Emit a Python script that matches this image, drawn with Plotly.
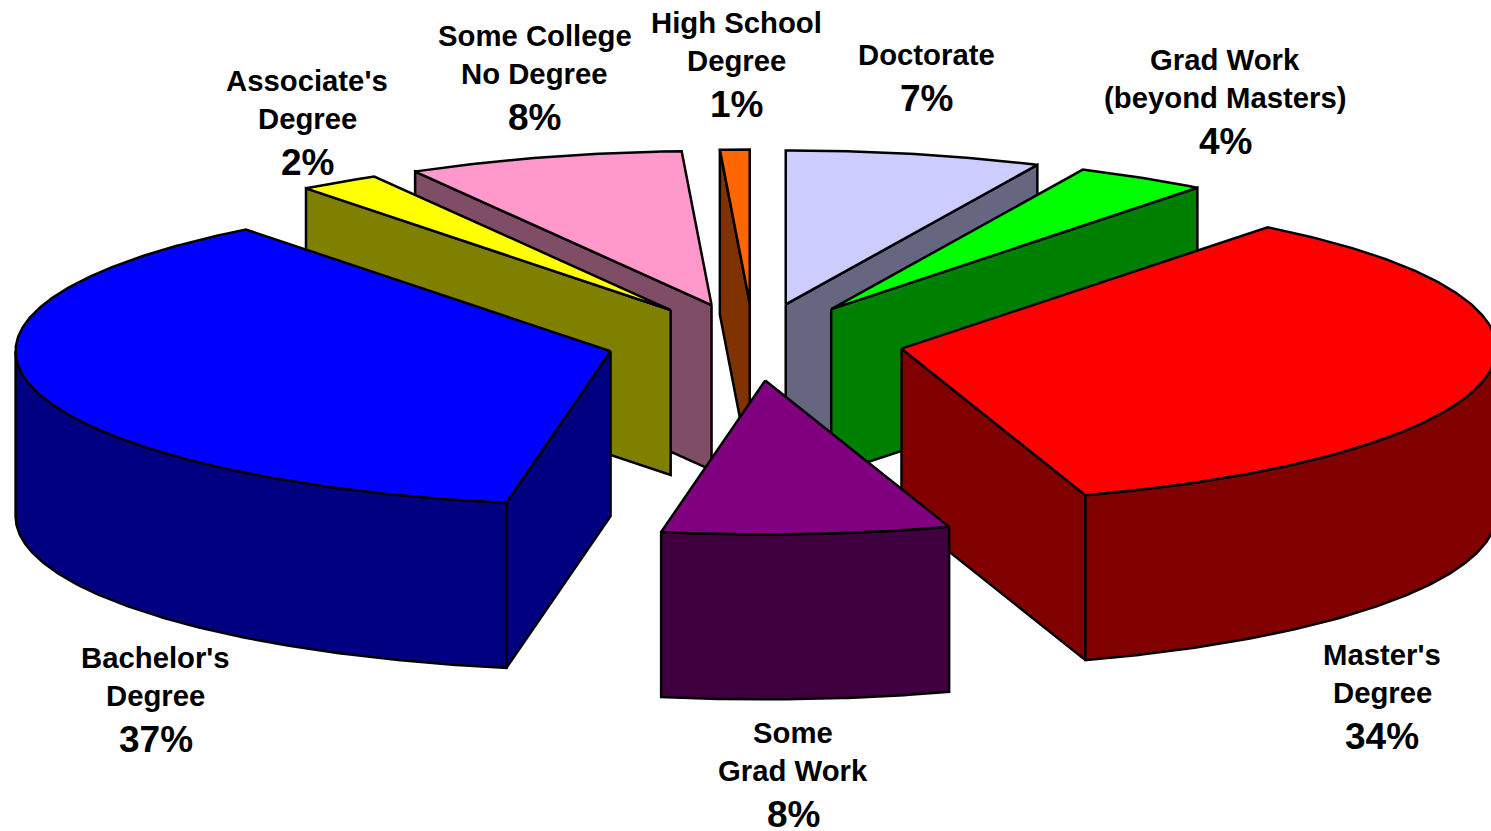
import math
import plotly.graph_objects as go

# ---- data ----
categories = ["Doctorate", "Grad Work (beyond Masters)", "Master's Degree", "Some Grad Work",
              "Bachelor's Degree", "Associate's Degree", "Some College No Degree", "High School Degree"]
values = [6.95, 3.6, 34.45, 7.8, 36.7, 2.2, 7.5, 0.8]
label_lines = [["Doctorate"], ["Grad Work", "(beyond Masters)"], ["Master's", "Degree"], ["Some", "Grad Work"],
               ["Bachelor's", "Degree"], ["Associate's", "Degree"], ["Some College", "No Degree"],
               ["High School", "Degree"]]

# ---- styling / layout ----
top_colors = ["#CCCCFF", "#00FF00", "#FF0000", "#800080", "#0000FF", "#FFFF00", "#FF99CC", "#FF6600"]
side_colors = ["#666680", "#008000", "#800000", "#400040", "#000080", "#808000", "#804D66", "#803300"]
label_anchor = [(926, 54), (1225, 59), (1382, 654), (793, 732), (155.5, 657), (307, 80), (534.5, 35), (736, 22)]
CX, CY, RX, RY, DEPTH, EXPLODE = 755.0, 342.0, 595.0, 154.0, 165.0, 0.25
BACK_SHIFT = 1.5  # far slices sit slightly left in the original rendering
NAME_SIZE, PCT_SIZE, LINE_H, PCT_GAP = 29.3, 37, 38, 44
FONT = "Liberation Sans"
EDGE = 2.5


def point(apex, deg):
    t = math.radians(deg)
    return apex[0] + RX * math.sin(t), apex[1] - RY * math.cos(t)


def arc(apex, a, b):
    n = max(2, int(abs(b - a) * 2) + 1)
    return [point(apex, a + (b - a) * i / (n - 1)) for i in range(n)]


def down(pts):
    return [(x, y + DEPTH) for x, y in pts]


def add_face(fig, pts, color):
    xs = [p[0] for p in pts] + [pts[0][0]]
    ys = [p[1] for p in pts] + [pts[0][1]]
    fig.add_trace(go.Scatter(x=xs, y=ys, mode="lines", fill="toself", fillcolor=color,
                             line=dict(color="black", width=EDGE), hoverinfo="skip", showlegend=False))


total = sum(values)
slices = []
angle = 0.0
for i, v in enumerate(values):
    span = v / total * 360
    a, b = angle, angle + span
    angle = b
    mid = math.radians((a + b) / 2)
    shift = BACK_SHIFT if math.cos(mid) > 0.5 else 0.0
    apex = (CX - shift + EXPLODE * RX * math.sin(mid), CY - EXPLODE * RY * math.cos(mid))
    slices.append((apex[1], i, a, b, apex))

fig = go.Figure()
for _, i, a, b, apex in sorted(slices, key=lambda s: s[0]):
    side = side_colors[i]
    # radial walls facing the viewer
    if math.sin(math.radians(a)) < -1e-9:
        p = [apex, point(apex, a)]
        add_face(fig, p + down(p)[::-1], side)
    if math.sin(math.radians(b)) > 1e-9:
        p = [apex, point(apex, b)]
        add_face(fig, p + down(p)[::-1], side)
    # outer wall: the part of the rim on the near half
    lo, hi = max(a, 90.0), min(b, 270.0)
    if hi > lo:
        p = arc(apex, lo, hi)
        add_face(fig, p + down(p)[::-1], side)
    # top face
    add_face(fig, [apex] + arc(apex, a, b), top_colors[i])

annotations = []
for lines, v, (x, y) in zip(label_lines, values, label_anchor):
    for k, line in enumerate(lines):
        annotations.append(dict(x=x, y=y + k * LINE_H, text=f"<b>{line}</b>", showarrow=False,
                                xanchor="center", yanchor="middle",
                                font=dict(family=FONT, size=NAME_SIZE, color="black")))
    annotations.append(dict(x=x, y=y + (len(lines) - 1) * LINE_H + PCT_GAP, text=f"<b>{round(v)}%</b>",
                            showarrow=False, xanchor="center", yanchor="middle",
                            font=dict(family=FONT, size=PCT_SIZE, color="black")))

fig.update_layout(width=1491, height=831, margin=dict(l=0, r=0, t=0, b=0),
                  paper_bgcolor="white", plot_bgcolor="white", annotations=annotations,
                  xaxis=dict(range=[0, 1491], visible=False, fixedrange=True),
                  yaxis=dict(range=[831, 0], visible=False, fixedrange=True))

fig.write_html("out.html", config=dict(displayModeBar=False),
               post_script="document.body.style.margin='0';document.body.style.overflow='hidden';")
